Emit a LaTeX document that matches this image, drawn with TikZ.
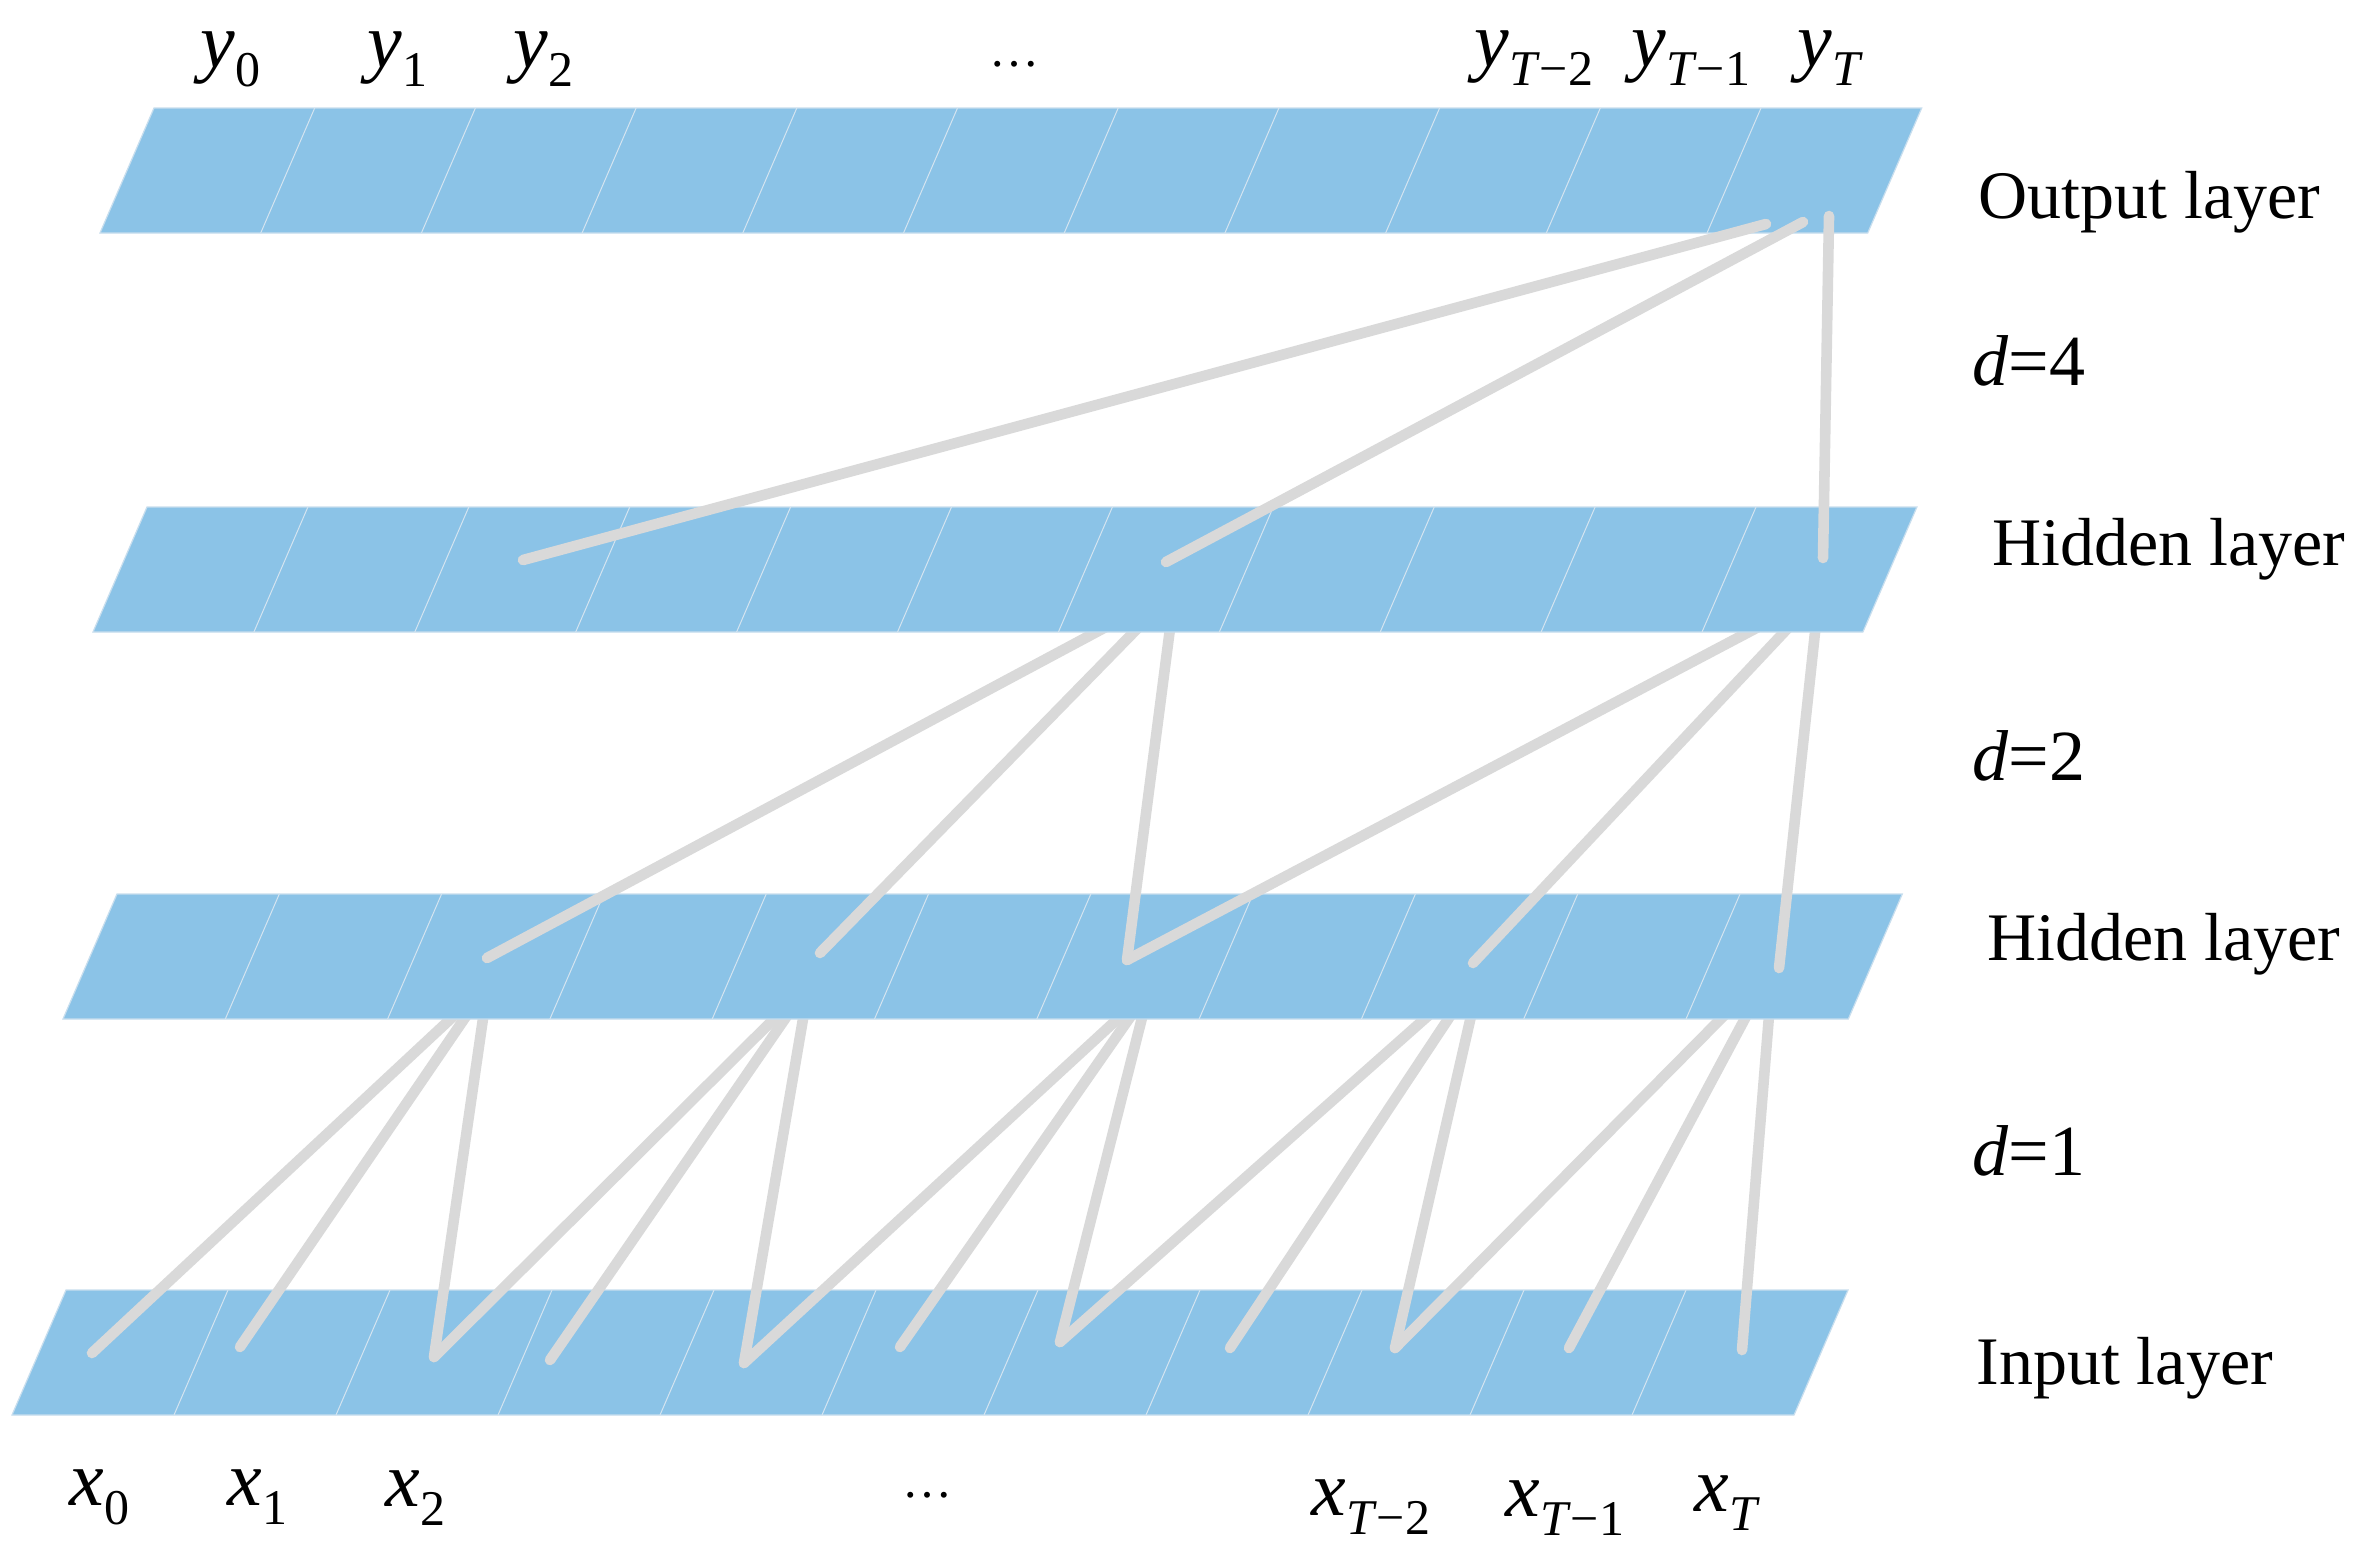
\documentclass[tikz,border=0pt]{standalone}
\usepackage{fontspec}
\setmainfont{Liberation Serif}
\definecolor{layerblue}{RGB}{139,195,231}
\definecolor{layeredge}{RGB}{200,222,238}
\definecolor{divline}{RGB}{212,228,240}
\definecolor{conngray}{RGB}{217,217,217}
\newcommand{\drawlayer}[3]{%
  \fill[layerblue, draw=layeredge, line width=0.6pt] (#1,#2) -- ++(11*#3,0) -- ++(-54,125) -- ++(-11*#3,0) -- cycle;
  \foreach \k in {1,...,10} {\draw[divline, line width=0.5pt] (#1+\k*#3,#2) -- ++(-54,125);}
}
\newcommand{\sublab}[2]{\textit{#1}\raisebox{-9.5pt}{\fontsize{25}{27}\selectfont #2}}
\begin{document}
\begin{tikzpicture}[x=0.5pt,y=-0.5pt,
  link/.style={draw=conngray, line width=5.3pt, line cap=round, line join=round},
  lab/.style={inner sep=0pt, anchor=base west, font=\fontsize{39}{44}\selectfont},
  txt/.style={inner sep=0pt, anchor=base west, font=\fontsize{34}{40}\selectfont},
  dlab/.style={inner sep=0pt, anchor=base west, font=\fontsize{36}{40}\selectfont},
  dots/.style={inner sep=0pt, anchor=base, font=\fontsize{25}{27}\selectfont}]
\useasboundingbox (0,0) rectangle (2365,1560);
\fill[white] (0,0) rectangle (2365,1560);

% connector end points
\coordinate (o10a) at (1766,224);
\coordinate (o10b) at (1803,222);
\coordinate (o10c) at (1829,216);
\coordinate (h2e2) at (523,560);
\coordinate (h2e6) at (1166,562);
\coordinate (h2e10) at (1823,558);
\coordinate (h2s6) at (1175,590);
\coordinate (h2s10) at (1819,595);
\coordinate (h1e2) at (487,958);
\coordinate (h1e4) at (820,953);
\coordinate (h1e6) at (1127,960);
\coordinate (h1e8) at (1473,963);
\coordinate (h1e10) at (1779,968);
\coordinate (h1s2) at (488,984);
\coordinate (h1s4) at (809,984);
\coordinate (h1s6) at (1149,990);
\coordinate (h1s8) at (1482,968);
\coordinate (h1s10) at (1773,966);
\coordinate (i0) at (92,1353);
\coordinate (i1) at (240,1347);
\coordinate (i2) at (434,1357);
\coordinate (i3) at (550,1360);
\coordinate (i4) at (744,1363);
\coordinate (i5) at (900,1347);
\coordinate (i6) at (1060,1342);
\coordinate (i7) at (1230,1348);
\coordinate (i8) at (1395,1348);
\coordinate (i9) at (1569,1348);
\coordinate (i10) at (1742,1350);

% input layer
\drawlayer{66}{1290}{162}
% d=1 connectors
\draw[link] (h1s2) -- (i0);
\draw[link] (h1s2) -- (i1);
\draw[link] (h1s2) -- (i2);
\draw[link] (h1s4) -- (i2);
\draw[link] (h1s4) -- (i3);
\draw[link] (h1s4) -- (i4);
\draw[link] (h1s6) -- (i4);
\draw[link] (h1s6) -- (i5);
\draw[link] (h1s6) -- (i6);
\draw[link] (h1s8) -- (i6);
\draw[link] (h1s8) -- (i7);
\draw[link] (h1s8) -- (i8);
\draw[link] (h1s10) -- (i8);
\draw[link] (h1s10) -- (i9);
\draw[link] (h1s10) -- (i10);
% lower hidden layer
\drawlayer{117}{894}{162.3}
% d=2 connectors
\draw[link] (h2s6) -- (h1e2);
\draw[link] (h2s6) -- (h1e4);
\draw[link] (h2s6) -- (h1e6);
\draw[link] (h2s10) -- (h1e6);
\draw[link] (h2s10) -- (h1e8);
\draw[link] (h2s10) -- (h1e10);
% upper hidden layer
\drawlayer{147}{507}{160.9}
% output layer
\drawlayer{154}{108}{160.7}
% d=4 connectors
\draw[link] (o10a) -- (h2e2);
\draw[link] (o10b) -- (h2e6);
\draw[link] (o10c) -- (h2e10);

% output labels
\node[lab] (y0) at (200,67) {\sublab{y}{0}};
\node[lab] (y1) at (367,67) {\sublab{y}{1}};
\node[lab] (y2) at (513,67) {\sublab{y}{2}};
\node[dots] (ydots) at (1014,66) {…};
\node[lab] (yT2) at (1474,66) {\sublab{y}{\textit{T}−2}};
\node[lab] (yT1) at (1631,66) {\sublab{y}{\textit{T}−1}};
\node[lab] (yT) at (1797,66) {\sublab{y}{\textit{T}}};
% input labels
\node[lab] (x0) at (69,1505) {\sublab{x}{0}};
\node[lab] (x1) at (227,1505) {\sublab{x}{1}};
\node[lab] (x2) at (385,1506) {\sublab{x}{2}};
\node[dots] (xdots) at (927,1497) {…};
\node[lab] (xT2) at (1311,1515) {\sublab{x}{\textit{T}−2}};
\node[lab] (xT1) at (1505,1516) {\sublab{x}{\textit{T}−1}};
\node[lab] (xT) at (1694,1511) {\sublab{x}{\textit{T}}};
% layer names
\node[txt] (outname) at (1978,218) {Output layer};
\node[dlab] (d4) at (1972,385) {\textit{d}=4};
\node[txt] (h2name) at (1992,565) {Hidden layer};
\node[dlab] (d2) at (1972,780) {\textit{d}=2};
\node[txt] (h1name) at (1987,960) {Hidden layer};
\node[dlab] (d1) at (1972,1175) {\textit{d}=1};
\node[txt] (inname) at (1976,1384) {Input layer};
\end{tikzpicture}
\end{document}
